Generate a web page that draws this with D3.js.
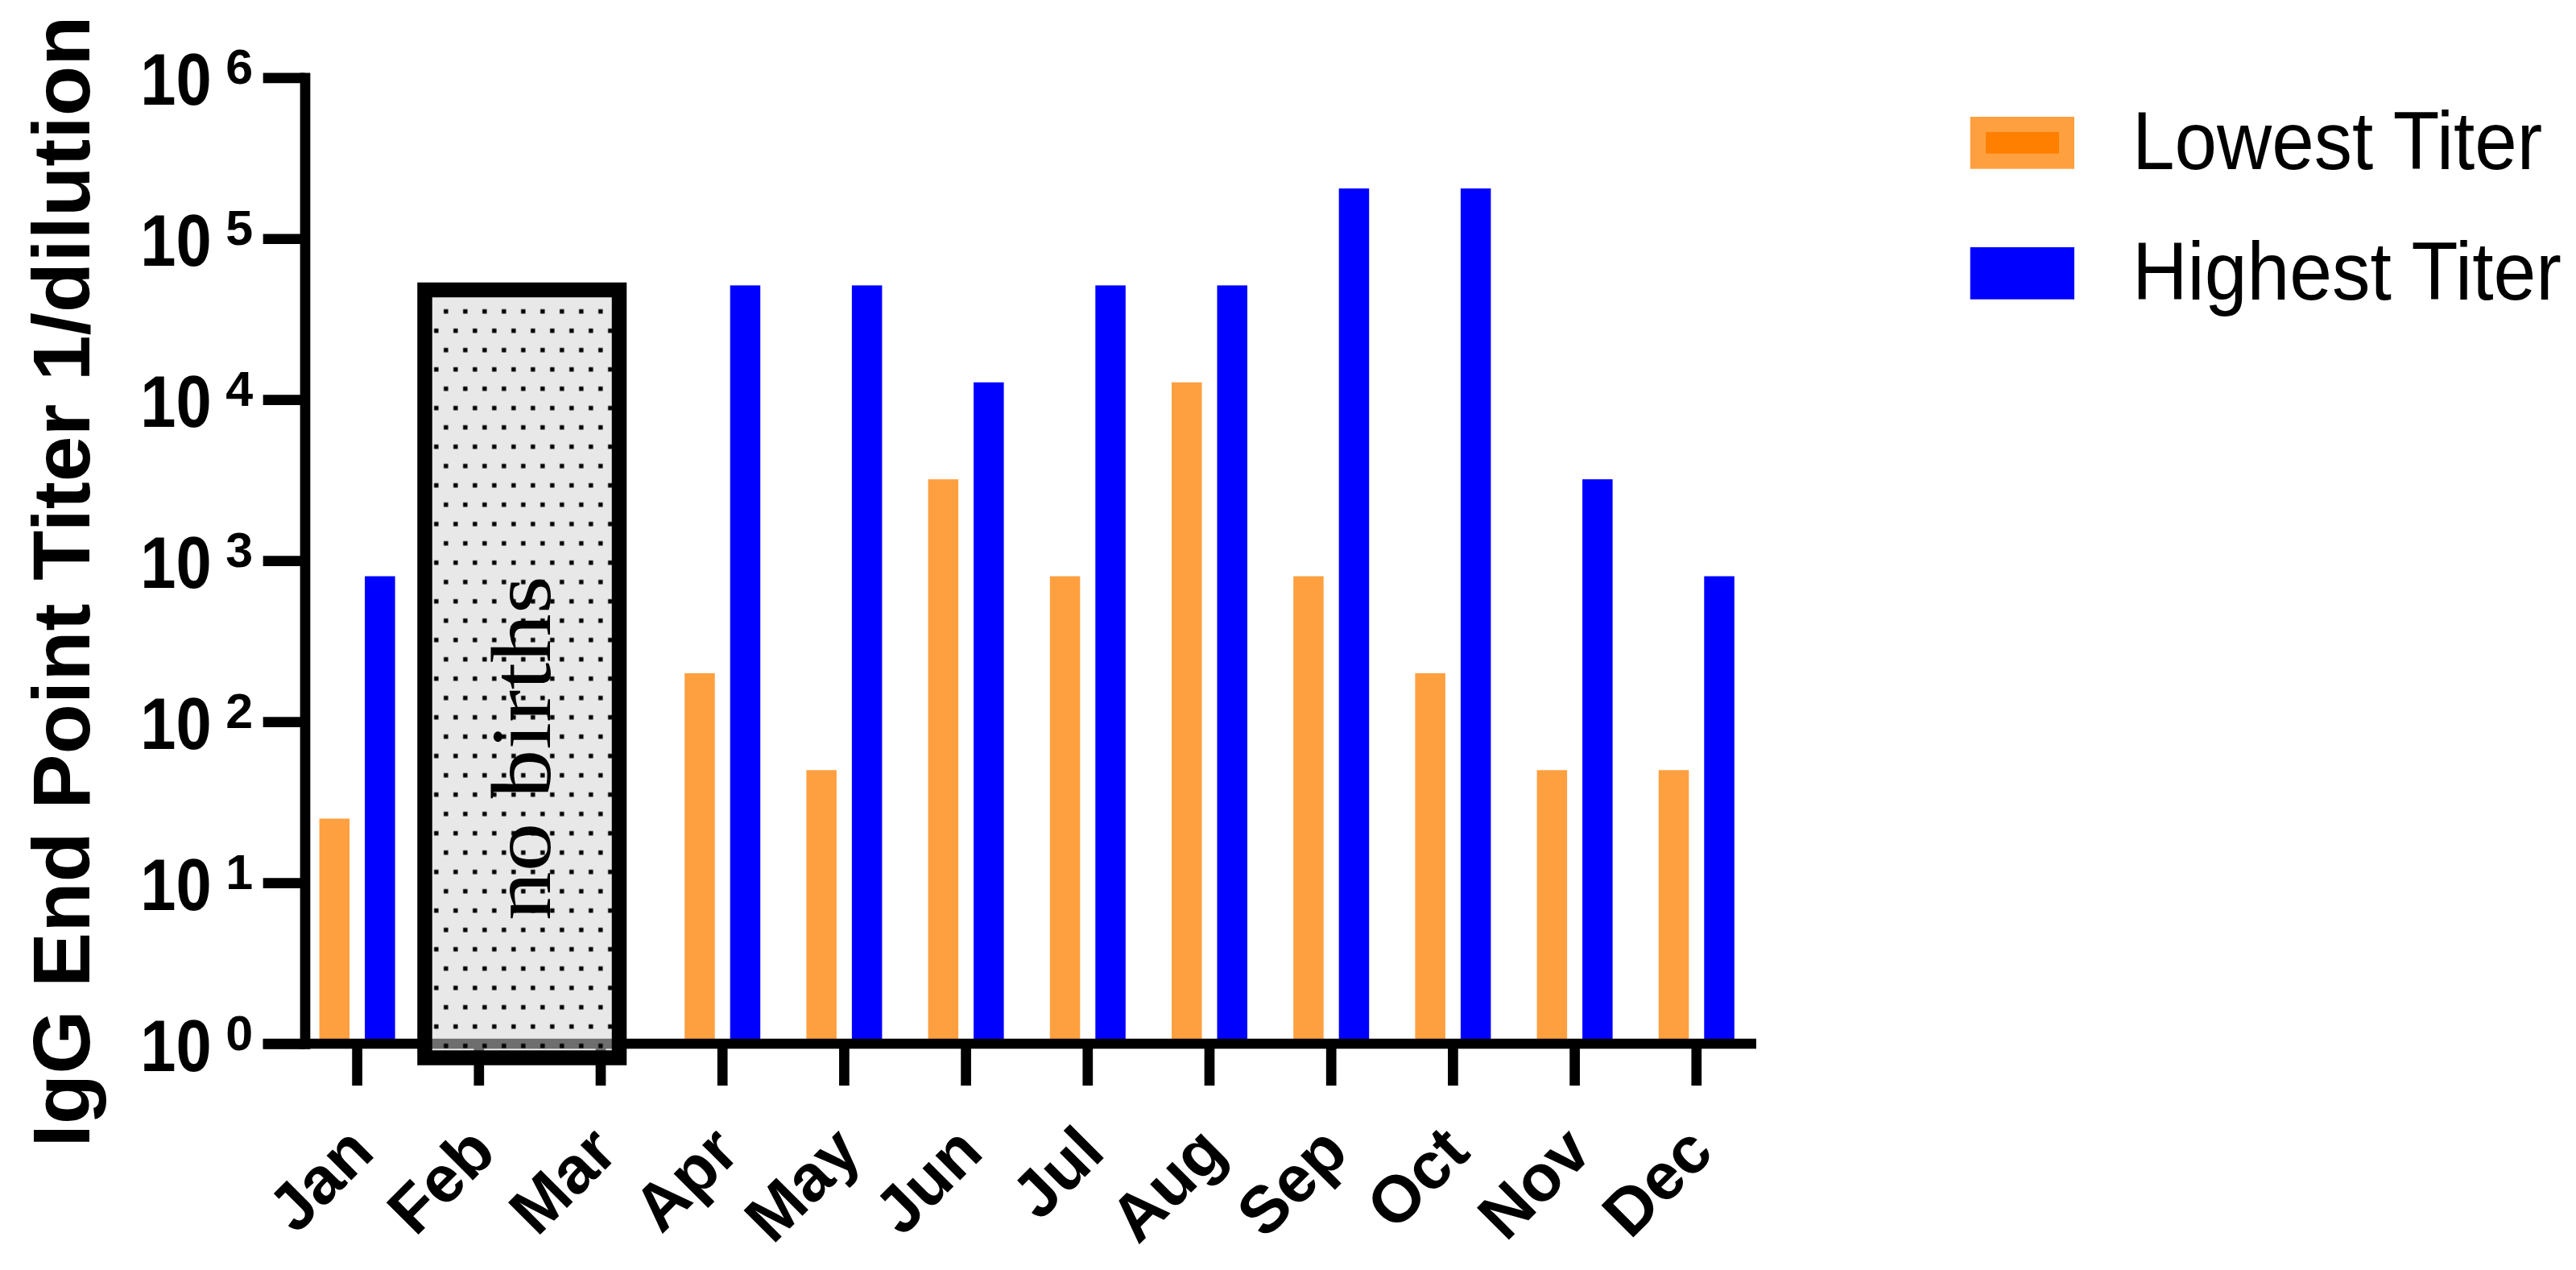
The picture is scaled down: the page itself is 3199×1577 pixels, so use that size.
<!DOCTYPE html>
<html>
<head>
<meta charset="utf-8">
<script src="https://cdn.jsdelivr.net/npm/d3@7"></script>
<style>
  html, body { margin: 0; padding: 0; background: #fff; }
  svg { display: block; }
</style>
</head>
<body>
<script>
// ---------------- data ----------------
const months = ["Jan","Feb","Mar","Apr","May","Jun","Jul","Aug","Sep","Oct","Nov","Dec"];
const lowestTiter  = [25, null, null, 200, 50, 3200, 800, 12800, 800, 200, 50, 50];
const highestTiter = [800, null, null, 51200, 51200, 12800, 51200, 51200, 204800, 204800, 3200, 800];
const seriesNames  = ["Lowest Titer", "Highest Titer"];
const seriesColors = ["#FFA040", "#0000FF"];
const yTickValues  = [1, 10, 100, 1000, 10000, 100000, 1000000];
const yTickExps    = ["0", "1", "2", "3", "4", "5", "6"];
const yTitle       = "IgG End Point Titer 1/dilution";
const noBirthsMonths = ["Feb", "Mar"];
const noBirthsTop    = 48000;
const noBirthsLabel  = "no births";

// ---------------- setup ----------------
const W = 3199, H = 1577;
const SANS = "'Liberation Sans', Arial, Helvetica, sans-serif";
const SERIF = "'Liberation Serif', 'Times New Roman', serif";
const LW = 12.7;

const svg = d3.select("body").append("svg")
  .attr("width", W).attr("height", H)
  .attr("viewBox", `0 0 ${W} ${H}`);

const x0 = d3.scaleBand().domain(months).range([368, 2182.4]);
const half = x0.bandwidth() / 2;
const x1 = d3.scaleBand().domain(seriesNames)
  .range([half - 56.5, half + 56.5])
  .paddingInner(0.336).paddingOuter(0.168);
const y = d3.scaleLog().domain([1, 1e6]).range([1296, 96.3]);

const seriesValues = [lowestTiter, highestTiter];

// ---------------- bars ----------------
const barData = [];
months.forEach((m, i) => {
  seriesNames.forEach((s, j) => {
    const v = seriesValues[j][i];
    if (v != null) barData.push({ m, s, v, c: seriesColors[j] });
  });
});
svg.append("g").selectAll("rect").data(barData).join("rect")
  .attr("x", d => x0(d.m) + x1(d.s))
  .attr("y", d => y(d.v))
  .attr("width", x1.bandwidth())
  .attr("height", d => y(1) - y(d.v))
  .attr("fill", d => d.c);

// ---------------- axes ----------------
const yAxisG = svg.append("g")
  .attr("transform", "translate(378.5,0)")
  .call(d3.axisLeft(y).tickValues(yTickValues).tickSize(51.8).tickSizeOuter(0).tickFormat(""));
yAxisG.select(".domain").attr("stroke", "#000").attr("stroke-width", LW)
  .attr("stroke-linecap", "square").attr("fill", "none");
yAxisG.selectAll(".tick line").attr("stroke", "#000").attr("stroke-width", LW);

const xAxisG = svg.append("g")
  .attr("transform", `translate(0,${y(1)})`)
  .call(d3.axisBottom(x0).tickSize(52).tickSizeOuter(0).tickFormat(""));
xAxisG.select(".domain").remove();
xAxisG.selectAll(".tick line").attr("stroke", "#000").attr("stroke-width", LW);
xAxisG.append("line")
  .attr("x1", 326.7).attr("x2", 2181)
  .attr("y1", 0).attr("y2", 0)
  .attr("stroke", "#000").attr("stroke-width", LW);

// ---------------- "no births" box ----------------
const defs = svg.append("defs");
const pat = defs.append("pattern")
  .attr("id", "dots").attr("patternUnits", "userSpaceOnUse")
  .attr("x", 535.8).attr("y", 404.7)
  .attr("width", 24).attr("height", 48);
pat.append("rect").attr("x", 3.3).attr("y", 3.3).attr("width", 5.4).attr("height", 5.4).attr("fill", "#000");
pat.append("rect").attr("x", 15.3).attr("y", 27.3).attr("width", 5.4).attr("height", 5.4).attr("fill", "#000");

const bx0 = x0(noBirthsMonths[0]) + 8.3;
const bx1 = x0(noBirthsMonths[1]) + 98.6;
const by0 = y(noBirthsTop);
const by1 = y(1) + 17.5;
const boxG = svg.append("g");
boxG.append("rect")
  .attr("x", bx0).attr("y", by0).attr("width", bx1 - bx0).attr("height", by1 - by0)
  .attr("fill", "rgb(210,210,210)").attr("fill-opacity", 0.52);
boxG.append("rect")
  .attr("x", bx0).attr("y", by0).attr("width", bx1 - bx0).attr("height", by1 - by0)
  .attr("fill", "url(#dots)");
boxG.append("rect")
  .attr("x", bx0).attr("y", by0).attr("width", bx1 - bx0).attr("height", by1 - by0)
  .attr("fill", "none").attr("stroke", "#000").attr("stroke-width", 18.5);
boxG.append("text")
  .attr("transform", "translate(683,929) rotate(-90)")
  .attr("text-anchor", "middle")
  .attr("font-family", SERIF).attr("font-size", 106)
  .attr("textLength", 428).attr("lengthAdjust", "spacingAndGlyphs")
  .attr("fill", "#000")
  .text(noBirthsLabel);

// ---------------- y tick labels ----------------
const yLab = svg.append("g").attr("font-family", SANS).attr("font-weight", "bold").attr("fill", "#000");
yTickValues.forEach((t, i) => {
  yLab.append("text")
    .attr("x", 174.2).attr("y", y(t) + 34)
    .attr("font-size", 91)
    .attr("textLength", 88.5).attr("lengthAdjust", "spacingAndGlyphs")
    .text("10");
  yLab.append("text")
    .attr("x", 280.3).attr("y", y(t) + 7.5)
    .attr("font-size", 61)
    .text(yTickExps[i]);
});

// ---------------- x tick labels ----------------
svg.append("g").selectAll("text").data(months).join("text")
  .attr("transform", d => `translate(${x0(d) + half + 24},1434) rotate(-45)`)
  .attr("text-anchor", "end")
  .attr("font-family", SANS).attr("font-weight", "bold").attr("font-size", 82)
  .attr("fill", "#000")
  .text(d => d);

// ---------------- y title ----------------
svg.append("text")
  .attr("transform", "translate(111,722) rotate(-90)")
  .attr("text-anchor", "middle")
  .attr("font-family", SANS).attr("font-weight", "bold").attr("font-size", 100)
  .attr("textLength", 1405).attr("lengthAdjust", "spacingAndGlyphs")
  .attr("fill", "#000")
  .text(yTitle);

// ---------------- legend ----------------
const legendRows = [
  { name: seriesNames[0], color: seriesColors[0], inner: "#FF8000", top: 145, base: 210, sx: 0.926 },
  { name: seriesNames[1], color: seriesColors[1], inner: null, top: 307, base: 371.7, sx: 0.931 }
];
const leg = svg.append("g");
legendRows.forEach(r => {
  leg.append("rect").attr("x", 2446.7).attr("y", r.top).attr("width", 129.3).attr("height", 64.7).attr("fill", r.color);
  if (r.inner) {
    leg.append("rect").attr("x", 2466).attr("y", r.top + 19).attr("width", 91).attr("height", 26.7).attr("fill", r.inner);
  }
  leg.append("text")
    .attr("transform", `translate(2648,${r.base}) scale(${r.sx},1)`)
    .attr("font-family", SANS).attr("font-size", 102)
    .attr("fill", "#000")
    .text(r.name);
});
</script>
</body>
</html>
